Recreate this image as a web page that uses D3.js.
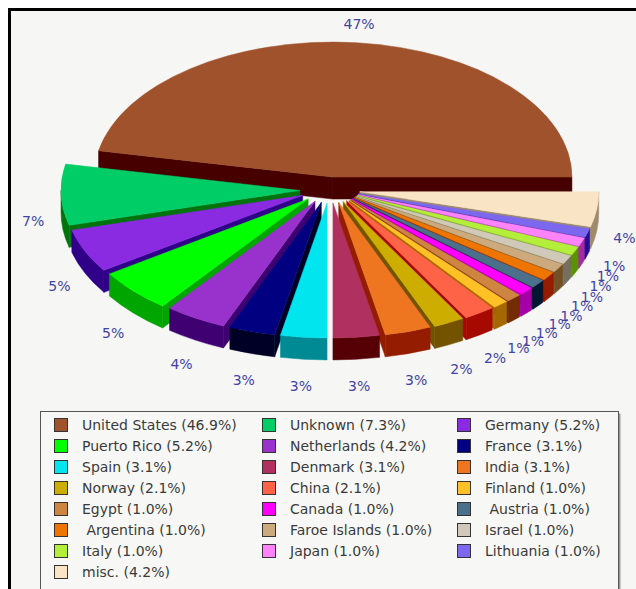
<!DOCTYPE html>
<html>
<head>
<meta charset="utf-8">
<script src="https://cdn.jsdelivr.net/npm/d3@7"></script>
<style>
  body { margin: 0; background: #fff; }
  svg { display: block; }
</style>
</head>
<body>
<div id="chart"></div>
<script>

// countries in the order the slices go round (and the legend reads row by row)
var countries = ["United States", "Unknown", "Germany", "Puerto Rico", "Netherlands", "France",
    "Spain", "Denmark", "India", "Norway", "China", "Finland", "Egypt", "Canada", " Austria",
    " Argentina", "Faroe Islands", "Israel", "Italy", "Japan", "Lithuania", "misc."];
var counts = [45, 7, 5, 5, 4, 3, 3, 3, 3, 2, 2, 1, 1, 1, 1, 1, 1, 1, 1, 1, 1, 4];
var colors = ["#a0522d", "#00cd66", "#8a2be2", "#00ff00", "#9932cc", "#000080",
    "#00e5ee", "#b03060", "#ee7621", "#cdad00", "#ff6347", "#ffc125", "#cd853f", "#ff00ff", "#4a708b",
    "#ee7600", "#cdaa7d", "#d0c8b8", "#b3ee3a", "#ff83fa", "#7b68ee", "#f9e4c6"];

const width = 636, height = 589;

// 3d pie geometry
var cx = 330, cy = 190,
    rx = 239, ry = 135,
    depth = 22,
    explodeX = 30, explodeY = 13,
    labelRx = 297, labelRy = 171, labelOff = 4;

var total = d3.sum(counts);
var pct1 = d3.format(".1f"), pct0 = d3.format(".0f");

var svg = d3.select("#chart").append("svg")
    .attr("width", width)
    .attr("height", height);

// frame
svg.append("rect")
    .attr("x", 9.5).attr("y", 9.5)
    .attr("width", 800).attr("height", 800)
    .attr("fill", "#f6f7f5")
    .attr("stroke", "#000")
    .attr("stroke-width", 3);

var arcs = d3.pie().sort(null).value(function(d) { return d })(counts);

// angles from d3.pie are used as counter-clockwise angles from 3 o'clock
arcs.forEach(function(d, i) {
    d.mid = (d.startAngle + d.endAngle) / 2;
    d.ox = cx + explodeX * Math.cos(d.mid);
    d.oy = cy - explodeY * Math.sin(d.mid);
    d.color = colors[i];
    var c = d3.rgb(colors[i]);
    d.side = d3.rgb(c.r - 90, c.g - 90, c.b - 90).formatRgb();
});

function pt(d, a, dy) {
    return [d.ox + rx * Math.cos(a), d.oy - ry * Math.sin(a) + (dy || 0)];
}

function topPath(d) {
    var p0 = pt(d, d.startAngle), p1 = pt(d, d.endAngle);
    var large = (d.endAngle - d.startAngle) > Math.PI ? 1 : 0;
    return "M" + d.ox + "," + d.oy + "L" + p0 + "A" + rx + "," + ry + " 0 " + large + " 0 " + p1 + "Z";
}

function arcSidePath(d) {
    var b0 = Math.max(d.startAngle, Math.PI), b1 = Math.min(d.endAngle, 2 * Math.PI);
    if (b0 >= b1) return null;
    var p0 = pt(d, b0), p1 = pt(d, b1), q0 = pt(d, b0, depth), q1 = pt(d, b1, depth);
    return "M" + p0 + "A" + rx + "," + ry + " 0 0 0 " + p1 + "L" + q1 +
        "A" + rx + "," + ry + " 0 0 1 " + q0 + "Z";
}

function radialPath(d, a) {
    var p = pt(d, a), q = pt(d, a, depth);
    return "M" + d.ox + "," + d.oy + "L" + p + "L" + q + "L" + d.ox + "," + (d.oy + depth) + "Z";
}

// back slices first
var order = arcs.slice().sort(function(a, b) { return Math.sin(b.mid) - Math.sin(a.mid) });

var slices = svg.append("g").selectAll("g")
    .data(order)
    .enter()
    .append("g");

slices.each(function(d) {
    var g = d3.select(this);
    var sides = [];
    if (Math.cos(d.startAngle) > 0.001) sides.push(radialPath(d, d.startAngle));
    if (Math.cos(d.endAngle) < -0.001) sides.push(radialPath(d, d.endAngle));
    var s = arcSidePath(d);
    if (s) sides.push(s);
    sides.forEach(function(p) {
        g.append("path").attr("d", p).attr("fill", d.side)
            .attr("stroke", d.side).attr("stroke-width", 0.5);
    });
    g.append("path").attr("d", topPath(d)).attr("fill", d.color)
        .attr("stroke", d.color).attr("stroke-width", 0.5);
});

// percentage labels round the pie
svg.append("g").selectAll("text")
    .data(arcs)
    .enter()
    .append("text")
    .attr("x", function(d) { return cx + labelRx * Math.cos(d.mid) })
    .attr("y", function(d) {
        var s = Math.sin(d.mid);
        return cy - labelRy * s + labelOff + (s < 0 ? depth : 0);
    })
    .attr("text-anchor", "middle")
    .attr("dy", "0.35em")
    .style("font-family", "DejaVu Sans, sans-serif")
    .style("font-size", "14px")
    .style("fill", "#4242a4")
    .text(function(d) { return pct0(d.value / total * 100) + "%" });

// legend
var legend = svg.append("g");
legend.append("rect")
    .attr("x", 42.5).attr("y", 413.5)
    .attr("width", 578).attr("height", 200)
    .attr("fill", "#9a9a9a");
legend.append("rect")
    .attr("x", 40.5).attr("y", 411.5)
    .attr("width", 578).attr("height", 200)
    .attr("fill", "#f7f8f6")
    .attr("stroke", "#555")
    .attr("stroke-width", 1);

var colX = [54, 262, 457], textGap = 28, rowTop = 425, rowH = 21;

var items = legend.selectAll("g.item")
    .data(countries)
    .enter()
    .append("g")
    .attr("class", "item")
    .attr("transform", function(d, i) {
        return "translate(" + colX[i % 3] + "," + (rowTop + rowH * Math.floor(i / 3)) + ")";
    });

items.append("rect")
    .attr("x", 0.5).attr("y", -6.5)
    .attr("width", 13).attr("height", 13)
    .attr("fill", function(d, i) { return colors[i] })
    .attr("stroke", "#333");

items.append("text")
    .attr("x", textGap)
    .attr("dy", "0.35em")
    .attr("xml:space", "preserve")
    .style("white-space", "pre")
    .style("font-family", "DejaVu Sans, sans-serif")
    .style("font-size", "14px")
    .style("fill", "#3a3a3a")
    .text(function(d, i) { return d + " (" + pct1(counts[i] / total * 100) + "%)" });

</script>
</body>
</html>
